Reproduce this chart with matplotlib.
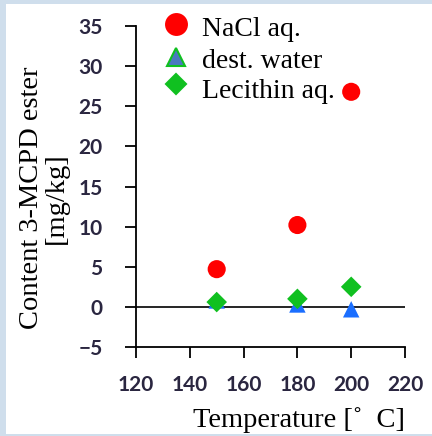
import matplotlib.pyplot as plt
from matplotlib.patches import Rectangle

temps = [150, 180, 200]
nacl = [4.7, 10.2, 26.8]
water = [0.8, 0.3, -0.3]
lecithin = [0.6, 1.0, 2.5]

W, H = 432, 436
fig = plt.figure(figsize=(W / 100, H / 100), dpi=100, facecolor='#cfdeec')
# white panel on light blue background
fig.patches.append(Rectangle((6 / W, 2 / H), (W - 6) / W, (H - 6) / H,
                             transform=fig.transFigure, facecolor='white',
                             edgecolor='none', zorder=-10))

ax = fig.add_axes([136 / W, 1 - 347 / H, (405 - 136) / W, (347 - 26) / H])
ax.set_facecolor('none')

ax.scatter(temps, nacl, s=170, marker='o', color='#ff0000', zorder=3,
           edgecolors='none')
ax.scatter(temps, water, s=140, marker='^', color='#1a6eff', zorder=3,
           edgecolors='none')
ax.scatter(temps, lecithin, s=110, marker='D', color='#10c020', zorder=4,
           edgecolors='none')
ax.axhline(0, color='black', lw=1.2, zorder=2)

ax.set_xlim(120, 220)
ax.set_ylim(-5, 35)
ax.set_xticks(range(120, 221, 20))
ax.set_yticks(range(-5, 36, 5))
for s in ['top', 'right']:
    ax.spines[s].set_visible(False)
for s in ['left', 'bottom']:
    ax.spines[s].set_linewidth(1.3)
ax.tick_params(direction='out', length=8, width=1.3, labelsize=15,
               labelcolor='#2a2640')
ax.tick_params(axis='y', pad=16)
ax.tick_params(axis='x', pad=12)
for lab in ax.get_xticklabels() + ax.get_yticklabels():
    lab.set_family('Lato')
    lab.set_fontweight('bold')

fig.text(44 / W, 1 - 198 / H, 'Content 3-MCPD ester\n[mg/kg]',
         family='Liberation Serif', fontsize=20.5, linespacing=1.0,
         rotation=90, ha='center', va='center', multialignment='center')
fig.text(405 / W, 1 - 420 / H, 'Temperature [\u02da  C]', family='Liberation Serif',
         fontsize=20.5, ha='right', va='center')

# legend drawn by hand in figure coordinates
leg_items = [
    ('o', '#ff0000', 'none', 15, 'NaCl aq.', 24, 30),
    ('^', '#4a78c0', '#10c020', 13, 'dest. water', 57, 61),
    ('D', '#10c020', 'none', 10.5, 'Lecithin aq.', 84, 91),
]
for m, fc, ec, ms, label, ym, yt in leg_items:
    fig.add_artist(plt.Line2D([176 / W], [1 - ym / H], marker=m,
                              markersize=ms, markerfacecolor=fc,
                              markeredgecolor=fc if ec == 'none' else ec,
                              markeredgewidth=1.5, linestyle='none',
                              transform=fig.transFigure))
    fig.text(202 / W, 1 - yt / H, label, family='Liberation Serif', fontsize=20,
             va='center', ha='left')

fig.savefig('out.png', dpi=100, facecolor=fig.get_facecolor())
